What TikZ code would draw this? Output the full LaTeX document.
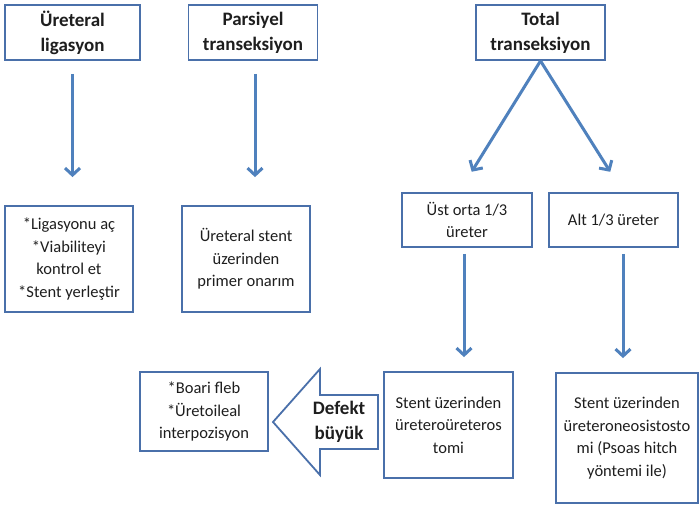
\documentclass[tikz,border=0pt]{standalone}
\usepackage{fontspec}
\setmainfont{Carlito}
\usetikzlibrary{arrows.meta}
\definecolor{boxblue}{RGB}{74,112,170}
\definecolor{arrowblue}{RGB}{79,129,189}
\definecolor{textgray}{RGB}{30,30,30}

\begin{document}
\begin{tikzpicture}[x=1pt, y=-1pt,
headbox/.style={rectangle, draw=boxblue, line width=1.8pt, text=textgray, minimum width=129pt, minimum height=55pt, align=center, font=\fontsize{19}{25}\selectfont\bfseries},
stepbox/.style={rectangle, draw=boxblue, line width=1.8pt, text=textgray, minimum width=129pt, align=center, font=\fontsize{16.5}{22.5}\selectfont},
flow/.style={draw=arrowblue, line width=3pt, -{Straight Barb[length=7pt,width=15pt]}},
]
\fill[white] (0,0) rectangle (700,506);
\useasboundingbox (0,0) rectangle (700,506);

%Nodes
\node[headbox, minimum width=135pt] (lig)     at (72.5,32.5)  {Üreteral\\ligasyon};
\node[headbox]                      (pars)    at (253,32.5)   {Parsiyel\\transeksiyon};
\node[headbox]                      (total)   at (540.5,32.5) {Total\\transeksiyon};
\node[stepbox, minimum width=128pt, minimum height=106pt] (ac)     at (69,259)  {*Ligasyonu aç\\*Viabiliteyi\\kontrol et\\*Stent yerleştir};
\node[stepbox, minimum width=128pt, minimum height=106pt] (primer) at (246,259) {Üreteral stent\\üzerinden\\primer onarım};
\node[stepbox, minimum width=130pt, minimum height=54pt]  (ustorta) at (467,220)  {Üst orta 1/3\\üreter};
\node[stepbox, minimum height=54pt]                       (alt)     at (613.5,220) {Alt 1/3 üreter};
\node[stepbox, minimum width=128pt, minimum height=79pt]  (boari) at (204,411.5) {*Boari fleb\\*Üretoileal\\interpozisyon};
\node[stepbox, minimum height=106pt]                      (uu)    at (448.5,425) {Stent üzerinden\\üreteroüreteros\\tomi};
\node[stepbox, minimum width=142pt, minimum height=130pt] (neo)   at (627,438)   {Stent üzerinden\\üreteroneosistosto\\mi (Psoas hitch\\yöntemi ile)};

%Big arrow
\draw[boxblue, line width=1.8pt, fill=white, line join=miter] (273,422) -- (320,369) -- (320,395) -- (378,395) -- (378,449) -- (320,449) -- (320,475) -- cycle;
\node[text=textgray, align=center, font=\fontsize{19}{25}\selectfont\bfseries] (defekt) at (339,422) {Defekt\\büyük};

%Lines
\draw[flow, shorten <=13pt, shorten >=28pt] (lig.south) -- (lig.south |- ac.north);
\draw[flow, shorten <=13pt, shorten >=28pt] ([xshift=2pt]pars.south) -- ([xshift=2pt]pars.south |- primer.north);
\draw[flow, shorten >=24pt] (total.south) -- ([xshift=-8pt]ustorta.north);
\draw[flow, shorten >=24pt] (total.south) -- ([xshift=9.5pt]alt.north);
\draw[flow, shorten <=6pt, shorten >=14pt] ([xshift=-3pt]ustorta.south) -- ([xshift=-3pt]ustorta.south |- uu.north);
\draw[flow, shorten <=6pt, shorten >=14pt] ([xshift=9.5pt]alt.south) -- ([xshift=9.5pt]alt.south |- neo.north);
\end{tikzpicture}
\end{document}
